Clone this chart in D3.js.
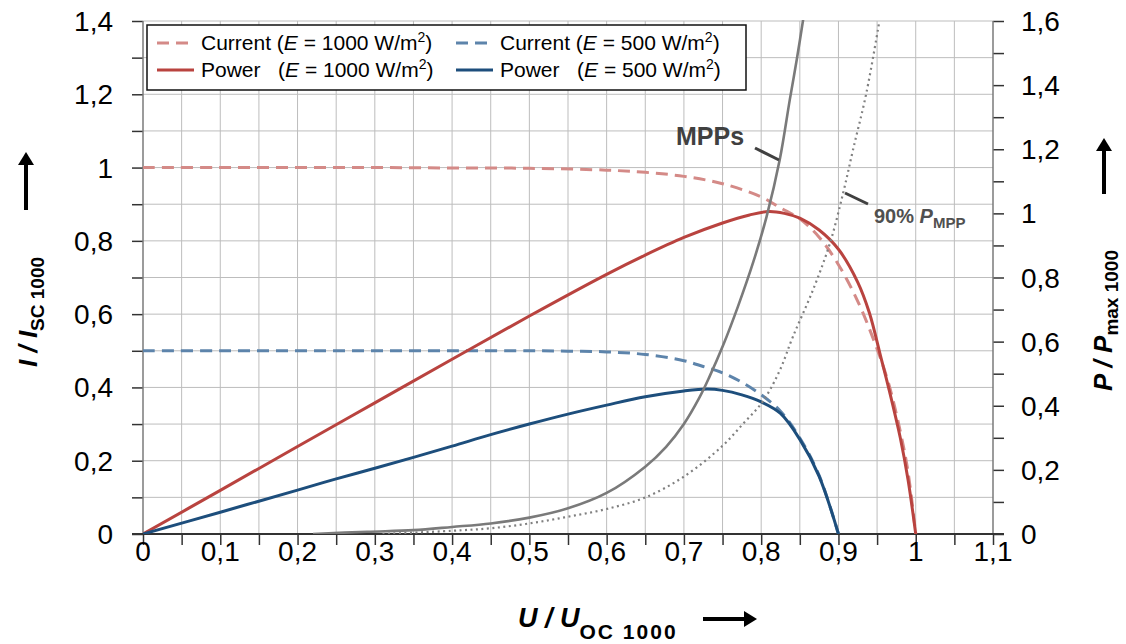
<!DOCTYPE html>
<html>
<head>
<meta charset="utf-8">
<script src="https://cdn.jsdelivr.net/npm/d3@7"></script>
<style>
  body { margin: 0; background: #fff; }
  svg { font-family: 'Liberation Sans', Arial, sans-serif; }
</style>
</head>
<body>
<div id="chart"></div>
<script>
// I / Isc1000 at E = 1000 W/m2 (left axis)
const current1000U = [0, 0.1, 0.2, 0.3, 0.4, 0.5, 0.6, 0.65, 0.7, 0.75, 0.8, 0.825, 0.85, 0.875, 0.9, 0.925, 0.95, 0.965, 0.98, 0.99, 1.0];
const current1000 = [1, 1, 1, 1, 0.999, 0.998, 0.993, 0.987, 0.976, 0.956, 0.92, 0.89, 0.86, 0.81, 0.735, 0.635, 0.505, 0.41, 0.28, 0.17, 0];
// I / Isc1000 at E = 500 W/m2 (left axis)
const current500U = [0, 0.1, 0.2, 0.3, 0.4, 0.5, 0.55, 0.6, 0.65, 0.7, 0.725, 0.75, 0.775, 0.8, 0.825, 0.85, 0.875, 0.9];
const current500 = [0.5, 0.5, 0.5, 0.5, 0.5, 0.5, 0.499, 0.497, 0.49, 0.473, 0.457, 0.44, 0.414, 0.38, 0.335, 0.262, 0.16, 0];
// P / Pmax1000 at E = 1000 W/m2 (right axis)
const power1000U = [0, 0.1, 0.2, 0.3, 0.4, 0.5, 0.6, 0.65, 0.7, 0.75, 0.785, 0.81, 0.83, 0.85, 0.875, 0.9, 0.925, 0.94, 0.955, 0.965, 0.98, 0.99, 1.0];
const power1000 = [0, 0.136, 0.273, 0.409, 0.545, 0.68, 0.81, 0.87, 0.925, 0.97, 0.995, 1.006, 1.0, 0.985, 0.948, 0.888, 0.785, 0.69, 0.55, 0.455, 0.3, 0.17, 0];
// P / Pmax1000 at E = 500 W/m2 (right axis)
const power500U = [0, 0.1, 0.2, 0.25, 0.3, 0.35, 0.4, 0.45, 0.5, 0.55, 0.6, 0.65, 0.7, 0.73, 0.75, 0.775, 0.8, 0.825, 0.85, 0.875, 0.9];
const power500 = [0, 0.068, 0.137, 0.172, 0.205, 0.239, 0.274, 0.31, 0.343, 0.374, 0.402, 0.428, 0.446, 0.452, 0.448, 0.434, 0.412, 0.376, 0.295, 0.18, 0];
// MPP locus (right axis)
const mppU = [0.22, 0.29, 0.35, 0.4, 0.45, 0.5, 0.55, 0.6, 0.65, 0.677, 0.7, 0.72, 0.733, 0.751, 0.77, 0.79, 0.807, 0.824, 0.837, 0.846, 0.856];
const mpp = [0, 0.007, 0.012, 0.022, 0.033, 0.051, 0.08, 0.128, 0.21, 0.272, 0.343, 0.425, 0.49, 0.59, 0.71, 0.85, 0.99, 1.167, 1.354, 1.479, 1.63];
// 90 % PMPP locus (right axis)
const mpp90U = [0.31, 0.4, 0.45, 0.5, 0.55, 0.6, 0.65, 0.7, 0.75, 0.777, 0.802, 0.824, 0.841, 0.867, 0.889, 0.906, 0.919, 0.936, 0.953];
const mpp90 = [0, 0.01, 0.018, 0.033, 0.054, 0.078, 0.114, 0.179, 0.275, 0.345, 0.413, 0.51, 0.615, 0.761, 0.907, 1.063, 1.2, 1.374, 1.6];

const xTicks = [0, 0.1, 0.2, 0.3, 0.4, 0.5, 0.6, 0.7, 0.8, 0.9, 1, 1.1];
const leftTicks = [0, 0.2, 0.4, 0.6, 0.8, 1, 1.2, 1.4];
const rightTicks = [0, 0.2, 0.4, 0.6, 0.8, 1, 1.2, 1.4, 1.6];

const width = 1126, height = 644;
const plotLeft = 143, plotRight = 993, plotTop = 21, plotBottom = 534;

const fmt = d => String(+d.toFixed(2)).replace('.', ',');

const x = d3.scaleLinear().domain([0, 1.1]).range([plotLeft, plotRight]);
const yL = d3.scaleLinear().domain([0, 1.4]).range([plotBottom, plotTop]);
const yR = d3.scaleLinear().domain([0, 1.6]).range([plotBottom, plotTop]);

const svg = d3.select('#chart').append('svg')
  .attr('width', width)
  .attr('height', height);

svg.append('defs').append('clipPath').attr('id', 'plot')
  .append('rect')
  .attr('x', plotLeft).attr('y', plotTop - 1)
  .attr('width', plotRight - plotLeft).attr('height', plotBottom - plotTop + 1);

// grid
const grid = svg.append('g').attr('stroke', '#bdbdbd').attr('stroke-width', 1);
grid.selectAll('line.v')
  .data(d3.range(1, 22).map(i => i * 0.05))
  .join('line')
  .attr('class', 'v')
  .attr('x1', d => x(d)).attr('x2', d => x(d))
  .attr('y1', plotTop).attr('y2', plotBottom);
grid.selectAll('line.h')
  .data(d3.range(1, 15).map(i => i * 0.1))
  .join('line')
  .attr('class', 'h')
  .attr('x1', plotLeft).attr('x2', plotRight)
  .attr('y1', d => yL(d)).attr('y2', d => yL(d));

// axes
const axisBottom = d3.axisBottom(x)
  .tickValues(d3.range(0, 23).map(i => i * 0.05))
  .tickSize(11).tickFormat('');
const axisLeft = d3.axisLeft(yL)
  .tickValues(d3.range(0, 15).map(i => i * 0.1))
  .tickSize(11).tickFormat('');
const axisRight = d3.axisRight(yR)
  .tickValues(d3.range(0, 17).map(i => i * 0.1))
  .tickSize(11).tickFormat('');

const gx = svg.append('g').attr('transform', `translate(0,${plotBottom})`).call(axisBottom);
const gl = svg.append('g').attr('transform', `translate(${plotLeft},0)`).call(axisLeft);
const gr = svg.append('g').attr('transform', `translate(${plotRight},0)`).call(axisRight);
[gx, gl, gr].forEach(g => {
  g.select('.domain').remove();
  g.selectAll('.tick line').attr('stroke', '#333').attr('stroke-width', 1.5);
});
svg.append('line').attr('x1', plotLeft).attr('x2', plotLeft).attr('y1', plotTop).attr('y2', plotBottom)
  .attr('stroke', '#7a7a7a').attr('stroke-width', 1.5);
svg.append('line').attr('x1', plotRight).attr('x2', plotRight).attr('y1', plotTop).attr('y2', plotBottom)
  .attr('stroke', '#7a7a7a').attr('stroke-width', 1.5);
svg.append('line').attr('x1', plotLeft - 11).attr('x2', plotRight + 11).attr('y1', plotBottom).attr('y2', plotBottom)
  .attr('stroke', '#333').attr('stroke-width', 2);

// tick labels
svg.append('g').selectAll('text')
  .data(xTicks).join('text')
  .attr('x', d => x(d)).attr('y', 561)
  .attr('text-anchor', 'middle').attr('font-size', 28)
  .text(fmt);
svg.append('g').selectAll('text')
  .data(leftTicks).join('text')
  .attr('x', 113).attr('y', d => yL(d) + 10)
  .attr('text-anchor', 'end').attr('font-size', 28)
  .text(fmt);
svg.append('g').selectAll('text')
  .data(rightTicks).join('text')
  .attr('x', 1021).attr('y', d => yR(d) + 10)
  .attr('text-anchor', 'start').attr('font-size', 28)
  .text(fmt);

// curves
const plot = svg.append('g').attr('clip-path', 'url(#plot)');
const series = [
  { u: current1000U, v: current1000, y: yL, color: '#d48a87', width: 3, dash: '12,7' },
  { u: current500U, v: current500, y: yL, color: '#5d84ab', width: 3, dash: '12,7' },
  { u: power1000U, v: power1000, y: yR, color: '#b9433f', width: 3, dash: null },
  { u: power500U, v: power500, y: yR, color: '#1d4e7c', width: 3, dash: null },
  { u: mpp90U, v: mpp90, y: yR, color: '#808080', width: 2.2, dash: '2,3.5' },
  { u: mppU, v: mpp, y: yR, color: '#7a7a7a', width: 2.6, dash: null },
];
series.forEach(s => {
  const line = d3.line()
    .x((d, i) => x(s.u[i]))
    .y(d => s.y(d))
    .curve(d3.curveCatmullRom.alpha(0.5));
  plot.append('path')
    .attr('d', line(s.v))
    .attr('fill', 'none')
    .attr('stroke', s.color)
    .attr('stroke-width', s.width)
    .attr('stroke-dasharray', s.dash);
});

// annotations
svg.append('line').attr('x1', 755).attr('y1', 148).attr('x2', 779).attr('y2', 160)
  .attr('stroke', '#404040').attr('stroke-width', 3);
svg.append('line').attr('x1', 845).attr('y1', 193).attr('x2', 868).attr('y2', 204)
  .attr('stroke', '#404040').attr('stroke-width', 3);
svg.append('text').attr('x', 676).attr('y', 145)
  .attr('font-size', 25).attr('font-weight', 'bold').attr('fill', '#404040')
  .text('MPPs');
const t90 = svg.append('text').attr('x', 874).attr('y', 223)
  .attr('font-size', 20).attr('font-weight', 'bold').attr('fill', '#505050');
t90.append('tspan').text('90% ');
t90.append('tspan').attr('font-style', 'italic').text('P');
t90.append('tspan').attr('font-size', 15).attr('dy', 5).text('MPP');

// legend
const legend = svg.append('g');
legend.append('rect')
  .attr('x', 147).attr('y', 25).attr('width', 599).attr('height', 65)
  .attr('fill', '#fff').attr('stroke', '#111').attr('stroke-width', 1.5);
const legendItems = [
  { x: 157, y: 50, color: '#d48a87', dash: '12,7', name: 'Current', gap: ' (', e: '1000' },
  { x: 456, y: 50, color: '#5d84ab', dash: '12,7', name: 'Current', gap: ' (', e: '500' },
  { x: 157, y: 77, color: '#b9433f', dash: null, name: 'Power', gap: '   (', e: '1000' },
  { x: 456, y: 77, color: '#1d4e7c', dash: null, name: 'Power', gap: '   (', e: '500' },
];
legendItems.forEach(d => {
  legend.append('line')
    .attr('x1', d.x).attr('x2', d.x + 37).attr('y1', d.y - 7).attr('y2', d.y - 7)
    .attr('stroke', d.color).attr('stroke-width', 3).attr('stroke-dasharray', d.dash);
  const t = legend.append('text')
    .attr('x', d.x + 44).attr('y', d.y).attr('font-size', 21)
    .style('white-space', 'pre');
  t.append('tspan').text(d.name + d.gap);
  t.append('tspan').attr('font-style', 'italic').text('E');
  t.append('tspan').text(` = ${d.e} W/m`);
  t.append('tspan').attr('font-size', 14).attr('dy', -8).text('2');
  t.append('tspan').attr('dy', 8).text(')');
});

// axis titles
const arrow = (x1, y1, x2, y2) => {
  const a = Math.atan2(y2 - y1, x2 - x1);
  const hx = x2 - 13 * Math.cos(a), hy = y2 - 13 * Math.sin(a);
  svg.append('line').attr('x1', x1).attr('y1', y1).attr('x2', hx).attr('y2', hy)
    .attr('stroke', '#000').attr('stroke-width', 4);
  const p = [
    [x2, y2],
    [hx + 8 * Math.sin(a), hy - 8 * Math.cos(a)],
    [hx - 8 * Math.sin(a), hy + 8 * Math.cos(a)],
  ];
  svg.append('polygon').attr('points', p.map(q => q.join(',')).join(' ')).attr('fill', '#000');
};

const titleBottom = svg.append('text').attr('x', 518).attr('y', 627)
  .attr('font-size', 27).attr('font-weight', 'bold');
titleBottom.append('tspan').attr('font-style', 'italic').text('U / U');
titleBottom.append('tspan').attr('font-size', 21).attr('dy', 12)
  .attr('letter-spacing', 2).text('OC 1000');
arrow(703, 619, 757, 619);

const titleLeft = svg.append('text')
  .attr('transform', 'translate(37,367) rotate(-90)')
  .attr('font-size', 26).attr('font-weight', 'bold');
titleLeft.append('tspan').attr('font-style', 'italic').text('I / I');
titleLeft.append('tspan').attr('font-size', 19).attr('dy', 7).text('SC 1000');
arrow(26, 210, 26, 152);

const titleRight = svg.append('text')
  .attr('transform', 'translate(1112,391) rotate(-90)')
  .attr('font-size', 26).attr('font-weight', 'bold');
titleRight.append('tspan').attr('font-style', 'italic').text('P / P');
titleRight.append('tspan').attr('font-size', 19).attr('dy', 6).text('max 1000');
arrow(1104, 194, 1104, 138);
</script>
</body>
</html>
